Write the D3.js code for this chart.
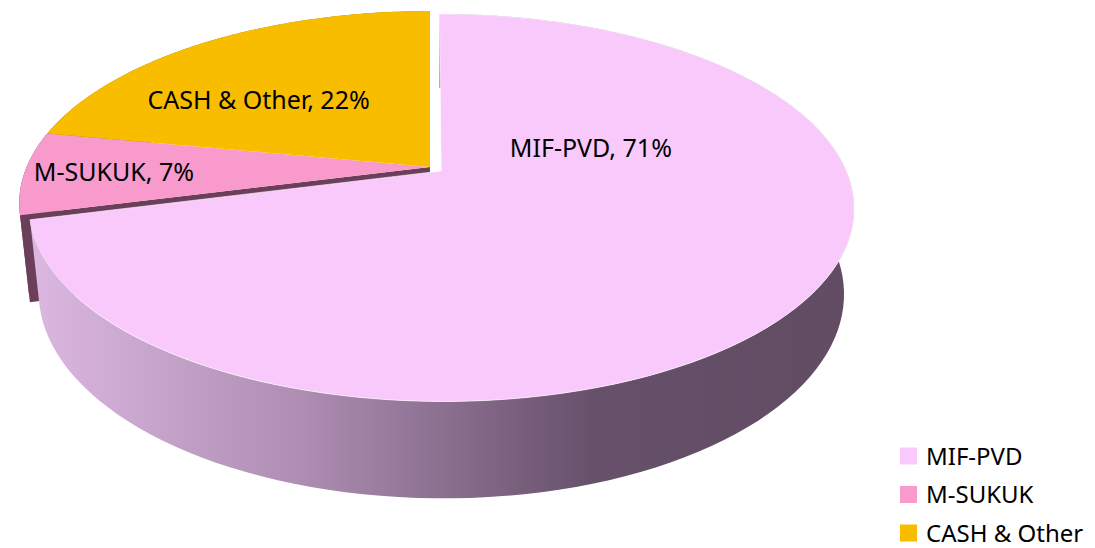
<!DOCTYPE html>
<html lang="en">
<head>
    <meta charset="UTF-8">
    <title>Fund allocation 3D pie</title>
    <style>
        body { margin: 0; background: #fff; }
        svg text { font-family: "Noto Sans", "DejaVu Sans", sans-serif; fill: #000; }
    </style>
</head>
<body>
    <svg id="chart" width="1095" height="548"></svg>

    <script src="https://d3js.org/d3.v7.min.js"></script>
    <script>
        // data
        const categories = ["MIF-PVD", "M-SUKUK", "CASH & Other"];
        const shares = [71, 7, 22];
        const sliceColors = ["#f9c9fb", "#f89bcc", "#f9bd00"];

        const svg = d3.select("#chart");

        // simple perspective camera for the tilted disc
        const cx = 430, cy = 167;
        const tilt = 27.35 * Math.PI / 180;
        const s = Math.sin(tilt), c = Math.cos(tilt);
        const D = 4.71, f = 1900;
        const thick = 0.24;
        const explode = [0.035, 0, 0];   // MIF-PVD pulled out a little
        // where each label sits (angle in degrees, radius 0..1)
        const labelSpots = [{ a: 71.4, r: 0.40 }, { a: 268.1, r: 0.78 }, { a: 310.5, r: 0.60 }];

        function project(X, Y, Z) {
            const u = Y * c + Z * s;
            const w = D + Z * c - Y * s;
            return [cx + f * X / w, cy - f * u / w];
        }

        const pie = d3.pie().sort(null).value(d => d)(shares);
        const slices = pie.map((p, i) => {
            const mid = (p.startAngle + p.endAngle) / 2;
            return {
                i, name: categories[i], value: shares[i],
                a0: p.startAngle, a1: p.endAngle,
                ox: explode[i] * Math.sin(mid), oz: explode[i] * Math.cos(mid)
            };
        });

        const rim = (d, a, y) => project(d.ox + Math.sin(a), y, d.oz + Math.cos(a));
        const arcPts = (d, a0, a1, y) => d3.range(0, 121).map(k => rim(d, a0 + (a1 - a0) * k / 120, y));
        const line = d3.line();

        // gradient for the front wall
        const defs = svg.append("defs");
        const grad = defs.append("linearGradient")
            .attr("id", "wallGrad")
            .attr("gradientUnits", "userSpaceOnUse")
            .attr("x1", 30).attr("x2", 860).attr("y1", 0).attr("y2", 0);
        grad.append("stop").attr("offset", "0%").attr("stop-color", "#dcb8e0");
        grad.append("stop").attr("offset", "33%").attr("stop-color", "#ad8db2");
        grad.append("stop").attr("offset", "68%").attr("stop-color", "#66506a");
        grad.append("stop").attr("offset", "100%").attr("stop-color", "#614c63");

        const g = svg.append("g");
        const sideColors = ["#7a5c78", "#6b3f5a", "#a07a10"];

        // outer walls of the small slices (mostly hidden at the back)
        slices.slice(1).forEach(d => {
            const pts = arcPts(d, d.a0, d.a1, 0).concat(arcPts(d, d.a0, d.a1, -thick).reverse());
            g.append("path").attr("d", line(pts) + "Z").attr("fill", sideColors[d.i]);
        });

        // only the outer cut faces show: start of M-SUKUK, end of CASH
        const cutFace = (d, a) => {
            const apexT = project(d.ox, 0, d.oz), apexB = project(d.ox, -thick, d.oz);
            g.append("path")
                .attr("d", line([apexT, rim(d, a, 0), rim(d, a, -thick), apexB]) + "Z")
                .attr("fill", sideColors[d.i]);
        };
        cutFace(slices[1], slices[1].a0);
        cutFace(slices[2], slices[2].a1);

        // tops of the small slices
        slices.slice(1).forEach(d => {
            const pts = [project(d.ox, 0, d.oz)].concat(arcPts(d, d.a0, d.a1, 0));
            g.append("path").attr("d", line(pts) + "Z").attr("fill", sliceColors[d.i]);
        });

        // big slice: wall then top
        const big = slices[0];
        const wallPts = arcPts(big, big.a0, big.a1, 0).concat(arcPts(big, big.a0, big.a1, -thick).reverse());
        g.append("path").attr("d", line(wallPts) + "Z").attr("fill", "url(#wallGrad)");
        g.append("path")
            .attr("d", line([project(big.ox, 0, big.oz)].concat(arcPts(big, big.a0, big.a1, 0))) + "Z")
            .attr("fill", sliceColors[0])
            .attr("stroke", "#fff").attr("stroke-opacity", 0.6).attr("stroke-width", 1);

        // labels
        slices.forEach(d => {
            const spot = labelSpots[d.i];
            const a = spot.a * Math.PI / 180;
            const p = project(d.ox + spot.r * Math.sin(a), 0, d.oz + spot.r * Math.cos(a));
            g.append("text")
                .attr("x", p[0]).attr("y", p[1])
                .attr("dy", "0.36em")
                .attr("text-anchor", "middle")
                .style("font-size", "25px")
                .text(`${d.name}, ${d.value}%`);
        });

        // legend
        const legend = svg.append("g").attr("transform", "translate(900,456)");
        const rows = legend.selectAll("g").data(categories).join("g")
            .attr("transform", (d, i) => `translate(0,${i * 38.5})`);
        rows.append("rect")
            .attr("x", 0).attr("y", -8.5).attr("width", 17).attr("height", 17)
            .attr("fill", (d, i) => sliceColors[i]);
        rows.append("text")
            .attr("x", 26).attr("y", 0).attr("dy", "0.36em")
            .style("font-size", "24px")
            .text(d => d);
    </script>
</body>
</html>
